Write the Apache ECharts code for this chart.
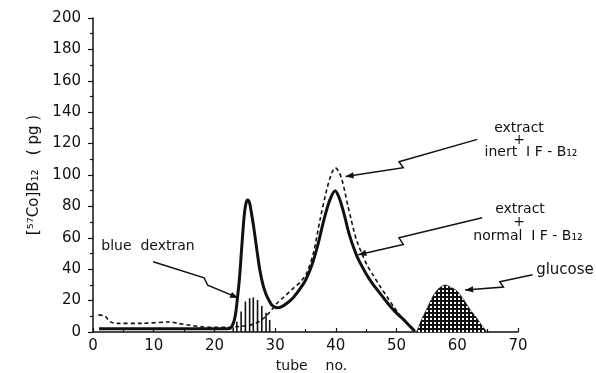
<!DOCTYPE html>
<html><head><meta charset="utf-8">
<script src="https://cdn.jsdelivr.net/npm/echarts@6/dist/echarts.min.js"></script>
<style>html,body{margin:0;padding:0;background:#fff}#c{width:596px;height:373px}</style>
</head><body><div id="c"></div>
<script>
// ---- data ----
const solidTubes  = [1,5,10,15,20,22.5,23.1,23.5,23.8,24.1,24.5,24.9,25.2,25.5,25.8,26.0,26.5,27.0,27.5,28.0,28.5,29.0,29.5,30.4,31.0,32.0,33.0,34.0,35.0,36.0,37.0,38.0,39.0,39.9,40.5,41.0,41.5,42.0,42.5,43.0,43.5,44.0,45.0,46.0,47.0,48.0,49.0,50.0,51.0,52.0,53.0];
const solidValues = [2,2,2,2,2,2.3,5.5,12,22,33,54,74,82,84,82,78,66,52,39,30,24,20,17,15.5,16,18.5,22,27,33,42,55,71,84,90,86,80,73,65,58.5,53,48,44,37,31,26,21,16.2,12,8.5,4.5,0.5];
const dashTubes   = [0.9,2.0,2.8,4,8,12.7,14,16,18.2,20,22,24,26,27.5,28.4,29.4,30.3,31.5,33.0,34.2,35.2,36.3,37.4,38.5,39.3,39.9,40.5,41.0,41.5,42.0,42.5,43.0,43.5,44.5,45.1,46.0,47.3,48.5,49.5,50.5,51.7,53.0];
const dashValues  = [10.9,10,6.6,5.5,5.5,6.4,5.5,4.3,3.2,3,3,3.5,4.5,7,9.8,14,18.3,22.5,27.9,32,37.5,50.3,71.6,90.7,101,104.6,102,97,89,80,72,64,57.5,48,43,37,29,22,16.2,11,6,0.5];
const dextranTubes  = [23.1,23.7,24.4,25.1,25.8,26.4,27.1,27.8,28.5,29.1];
const dextranValues = [3,6.6,13,19.4,21.5,22,20.4,16.6,12.3,7.7];
const glucoseTubes  = [53.3,54,55,56,57,58,59,60,61,62,63,64,64.9];
const glucoseValues = [0,7,15,23,28,30,28.5,26,21,15,10,4.5,0];
const xTickLabels = ['0','10','20','30','40','50','60','70'];
const yTickLabels = ['0','20','40','60','80','100','120','140','160','180','200'];
// annotation arrows (data coordinates): start, break A, break B, tip
const arrowInert   = [[63.3,122.7],[50.4,108.5],[51.1,104.6],[41.6,99.0]];
const arrowNormal  = [[64.1,72.8],[50.4,60.0],[51.1,55.8],[43.7,49.2]];
const arrowGlucose = [[72.4,36.4],[67.0,32.0],[67.6,28.6],[61.3,26.8]];
const arrowDextran = [[9.9,44.7],[18.3,34.5],[18.9,29.8],[23.9,21.7]];

const zip = (a,b) => a.map((v,i)=>[v,b[i]]);
const FONT = 'DejaVu Sans';
const INK = '#111';

// cross-hatch pattern for glucose
const pat = document.createElement('canvas');
pat.width = 4; pat.height = 4;
const pc = pat.getContext('2d');
pc.fillStyle = '#fff'; pc.fillRect(0,0,4,4);
pc.fillStyle = '#111'; pc.fillRect(0,0,4,2); pc.fillRect(0,0,2,4);

const chart = echarts.init(document.getElementById('c'), null, {renderer:'canvas'});
chart.setOption({
  animation:false,
  backgroundColor:'#fff',
  grid:{left:93, right:78, top:18, bottom:41, containLabel:false, outerBoundsMode:'none'},
  xAxis:{
    type:'value', min:0, max:70, interval:10,
    name:'tube    no.', nameLocation:'middle', nameGap:25,
    nameTextStyle:{fontFamily:FONT, fontSize:14, color:INK, padding:[0,0,0,12]},
    axisLine:{lineStyle:{color:INK, width:1.5}},
    axisTick:{inside:true, length:4, lineStyle:{color:INK, width:1.2}},
    minorTick:{show:true, splitNumber:2, length:3, lineStyle:{color:INK,width:1.2}},
    splitLine:{show:false},
    axisLabel:{fontFamily:FONT, fontSize:15, color:INK, margin:7,
      formatter:(v)=>xTickLabels[Math.round(v/10)]}
  },
  yAxis:{
    type:'value', min:0, max:200, interval:20,
    name:'[⁵⁷Co]B₁₂   ( pg )', nameLocation:'middle', nameGap:50, nameRotate:90,
    nameTextStyle:{fontFamily:FONT, fontSize:15, color:INK},
    axisLine:{show:true, lineStyle:{color:INK, width:1.5}},
    axisTick:{show:true, length:5, lineStyle:{color:INK, width:1.2}},
    minorTick:{show:true, splitNumber:2, length:3, lineStyle:{color:INK,width:1.2}},
    splitLine:{show:false},
    axisLabel:{fontFamily:FONT, fontSize:15, color:INK, margin:12,
      formatter:(v)=>yTickLabels[Math.round(v/20)]}
  },
  series:[
    {type:'line', data:zip(glucoseTubes,glucoseValues), symbol:'none', smooth:0.2,
     lineStyle:{width:0.5, color:INK}, areaStyle:{color:{image:pat, repeat:'repeat'}, opacity:1}, z:1},
    {type:'bar', data:zip(dextranTubes,dextranValues), barWidth:1.6, itemStyle:{color:INK}, z:2},
    {type:'line', data:zip(dashTubes,dashValues), symbol:'none', smooth:0.3,
     lineStyle:{width:1.6, color:INK, type:[4,3]}, z:3},
    {type:'line', data:zip(solidTubes,solidValues), symbol:'none', smooth:0.3,
     lineStyle:{width:3, color:INK}, z:4}
  ]
});

function px(p){ return chart.convertToPixel({gridIndex:0}, p); }
const graphics = [];
function addArrow(pts){
  const P = pts.map(px);
  graphics.push({type:'polyline', shape:{points:P}, style:{stroke:INK, lineWidth:1.5, fill:null, lineJoin:'miter'}, z:10});
  const e = P[P.length-1], s = P[P.length-2];
  const dx = e[0]-s[0], dy = e[1]-s[1], L = Math.hypot(dx,dy);
  const ux = dx/L, uy = dy/L, nx = -uy, ny = ux, len = 8, w = 3.2;
  const bx = e[0]-ux*len, by = e[1]-uy*len;
  graphics.push({type:'polygon', shape:{points:[[e[0],e[1]],[bx+nx*w,by+ny*w],[bx-nx*w,by-ny*w]]},
    style:{fill:INK}, z:10});
}
[arrowInert, arrowNormal, arrowGlucose, arrowDextran].forEach(addArrow);
function addText(t, x, y, size){
  graphics.push({type:'text', x:x, y:y, style:{text:t, fill:INK, font:(size||14)+'px "'+FONT+'"',
    align:'center', verticalAlign:'middle', textAlign:'center', textVerticalAlign:'middle'}, z:11});
}
addText('extract', 519, 128, 14);
addText('+', 519, 140, 14);
addText('inert  I F - B₁₂', 531, 152, 14);
addText('extract', 520, 209, 14);
addText('+', 519, 222, 14);
addText('normal  I F - B₁₂', 528, 236, 14);
addText('glucose', 565, 270, 15);
addText('blue  dextran', 148, 246, 14);
chart.setOption({graphic:graphics});
</script></body></html>
